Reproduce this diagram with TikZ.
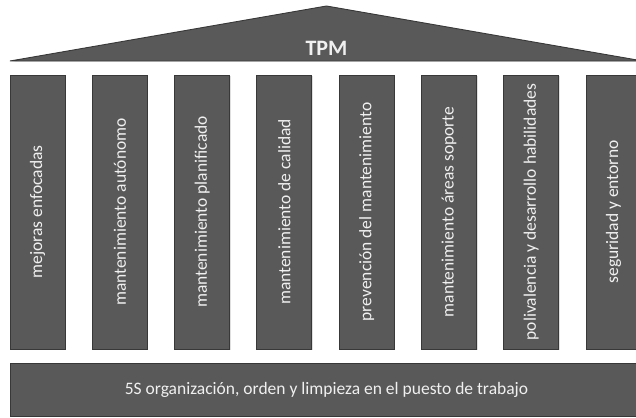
\documentclass[tikz,border=0pt]{standalone}
\usepackage{fontspec}
\setmainfont{Carlito}
\usetikzlibrary{shadows}

\definecolor{pillargray}{HTML}{595959}
\definecolor{edgegray}{HTML}{383838}

\begin{document}
\begin{tikzpicture}[x=1pt,y=-1pt,
      every node/.style={text=white!94!black},
      block/.style={fill=pillargray,draw=edgegray,line width=0.9pt,
        drop shadow={opacity=0.25,shadow xshift=1pt,shadow yshift=-1pt}},
      pillar/.style={block,rotate=90,minimum width=274pt,minimum height=55pt,
        inner sep=0pt,font=\fontsize{17.5}{18}\selectfont}]
      \useasboundingbox (0,0) rectangle (636,417);
      \clip (0,0) rectangle (636,417);
      % roof
      \coordinate (r_l) at (10,61);
      \coordinate (r_t) at (326.5,6);
      \coordinate (r_r) at (643,61);
      \fill[block] (r_l) -- (r_t) -- (r_r) -- cycle;
      \node[font=\bfseries\fontsize{22}{22}\selectfont] (tpm) at (326.5,48) {TPM};
      % pillars
      \foreach \txt [count=\i] in {mejoras enfocadas, mantenimiento autónomo,
          mantenimiento planificado, mantenimiento de calidad,
          prevención del mantenimiento, mantenimiento áreas soporte,
          polivalencia y desarrollo habilidades, seguridad y entorno}
        \node[pillar] (p_\i) at ({37.5+82.3*(\i-1)},212) {\txt};
      % base
      \node[block,minimum width=633pt,minimum height=53pt,inner sep=0pt,
        font=\fontsize{17.5}{18}\selectfont] (base) at (326.5,389.5)
        {5S organización, orden y limpieza en el puesto de trabajo};
    \end{tikzpicture}
\end{document}
